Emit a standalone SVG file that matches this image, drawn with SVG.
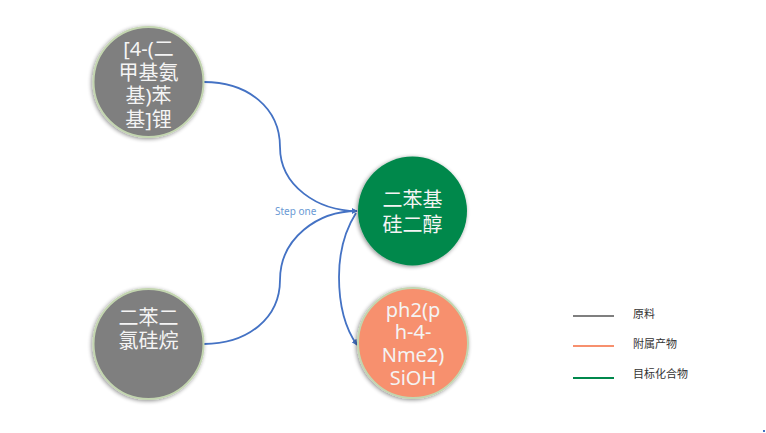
<svg xmlns="http://www.w3.org/2000/svg" width="766" height="433" viewBox="0 0 766 433">
<defs>
<filter id="sh" x="-20%" y="-20%" width="140%" height="140%">
<feGaussianBlur in="SourceAlpha" stdDeviation="2"/>
<feOffset dx="-1" dy="1" result="b"/>
<feComponentTransfer><feFuncA type="linear" slope="0.45"/></feComponentTransfer>
<feMerge><feMergeNode/><feMergeNode in="SourceGraphic"/></feMerge>
</filter>
<marker id="arr" viewBox="0 0 10 10" refX="9" refY="5" markerWidth="6" markerHeight="6" orient="auto-start-reverse" markerUnits="userSpaceOnUse">
<path d="M0,0 L10,5 L0,10 z" fill="#4472C4"/>
</marker>
<style>
.raw{fill:#7F7F7F;stroke:#C3D5B0;stroke-width:2;filter:url(#sh)}
.tgt{fill:#00884C;filter:url(#sh)}
.side{fill:#F7906E;stroke:#C3D5B0;stroke-width:2;filter:url(#sh)}
.nt{fill:#F4F4F4;font-family:"Noto Sans","Noto Sans CJK SC",sans-serif;font-size:20px;text-anchor:middle}
.edge{fill:none;stroke:#4472C4;stroke-width:1.8}
.lbl{fill:#6A9AD4;font-family:"Noto Sans","Noto Sans CJK SC",sans-serif;font-size:10px}
.lg{font-family:"Noto Sans CJK SC",sans-serif;font-size:11px;fill:#333}
</style>
</defs>
<rect width="766" height="433" fill="#FFFFFF"/>
<g id="connectors">
<path class="edge" d="M204,82 C248,82 280,108 280,147 C280,186 318,211 357,211" marker-end="url(#arr)"/>
<path class="edge" d="M204,344 C248,344 280,318 280,280 C280,238 318,211 357,211" marker-end="url(#arr)"/>
<path class="edge" d="M356,213 C344,232 339,255 339,277 C339,303 345,328 357,345" marker-end="url(#arr)"/>
<text class="lbl" x="275" y="215">Step one</text>
</g>
<g id="node-lithium">
<circle class="raw" cx="148.5" cy="82" r="55"/>
<text class="nt" x="148.5" y="56">[4-(二</text>
<text class="nt" x="148.5" y="80">甲基氨</text>
<text class="nt" x="148.5" y="103">基)苯</text>
<text class="nt" x="148.5" y="127">基]锂</text>
</g>
<g id="node-dichlorosilane">
<circle class="raw" cx="148.5" cy="344" r="55"/>
<text class="nt" x="148.5" y="325">二苯二</text>
<text class="nt" x="148.5" y="348">氯硅烷</text>
</g>
<g id="node-diol">
<circle class="tgt" cx="412.5" cy="211" r="54.5"/>
<text class="nt" x="412.5" y="207">二苯基</text>
<text class="nt" x="412.5" y="232">硅二醇</text>
</g>
<g id="node-byproduct">
<circle class="side" cx="413" cy="343" r="55"/>
<text class="nt" x="413" y="317">ph2(p</text>
<text class="nt" x="413" y="339">h-4-</text>
<text class="nt" x="413" y="362">Nme2)</text>
<text class="nt" x="413" y="385">SiOH</text>
</g>
<g id="legend">
<line x1="573" y1="316" x2="614" y2="316" stroke="#7F7F7F" stroke-width="2"/>
<text class="lg" x="633" y="318">原料</text>
<line x1="573" y1="346" x2="614" y2="346" stroke="#F7906E" stroke-width="2"/>
<text class="lg" x="633" y="348">附属产物</text>
<line x1="573" y1="378" x2="614" y2="378" stroke="#00884C" stroke-width="2"/>
<text class="lg" x="633" y="378">目标化合物</text>
</g>
<rect x="763" y="430" width="2" height="2" fill="#4472C4"/>
</svg>
